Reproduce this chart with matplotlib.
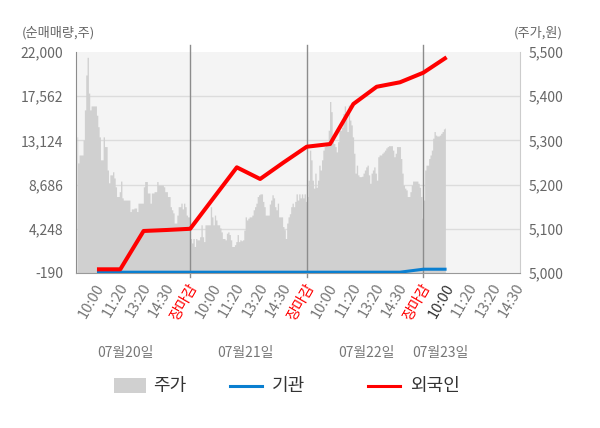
import numpy as np
import matplotlib.pyplot as plt
from matplotlib import transforms
from matplotlib.patches import Rectangle
from matplotlib.lines import Line2D

plt.rcParams['font.family'] = ['Noto Sans CJK KR', 'DejaVu Sans']

# ---- data ----
dates = ['07월20일', '07월21일', '07월22일', '07월23일']
slots = ['10:00', '11:20', '13:20', '14:30', '장마감']

# cumulative net buying (shares) at each slot, day1 10:00 ... day4 10:00
foreign = [180, 180, 4030, 4130, 4250, 7340, 10420, 9250, 10900, 12490,
           12760, 16780, 18510, 18960, 19920, 21470]
institution = [-110, -110, -110, -110, -110, -110, -110, -110, -110, -110,
               -110, -110, -110, -110, 190, 190]

# intraday price, 5-minute samples (won)
price_0720 = [5308, 5249, 5267, 5267, 5267, 5301, 5369, 5448, 5488, 5407,
              5369, 5378, 5378, 5378, 5378, 5357, 5331, 5308, 5256, 5256,
              5308, 5286, 5286, 5233, 5204, 5222, 5222, 5229, 5215, 5195,
              5173, 5173, 5184, 5208, 5170, 5165, 5165, 5165, 5165, 5165,
              5139, 5145, 5145, 5147, 5147, 5139, 5158, 5158, 5158, 5158,
              5195, 5207, 5207, 5181, 5181, 5158, 5181, 5181, 5184, 5184,
              5207, 5199, 5199, 5199, 5199, 5195, 5184, 5184, 5173, 5173,
              5150, 5143, 5136, 5113, 5113, 5131, 5150, 5150, 5158, 5145,
              5158, 5150, 5131, 5127, 5127]
price_0721 = [5078, 5068, 5078, 5060, 5078, 5075, 5075, 5082, 5109, 5082,
              5071, 5109, 5109, 5109, 5109, 5150, 5127, 5109, 5131, 5120,
              5109, 5109, 5102, 5093, 5078, 5078, 5075, 5090, 5093, 5087,
              5075, 5060, 5060, 5064, 5071, 5087, 5071, 5075, 5073, 5075,
              5097, 5127, 5120, 5124, 5127, 5127, 5131, 5143, 5150, 5158,
              5173, 5177, 5179, 5179, 5162, 5150, 5131, 5131, 5131, 5156,
              5165, 5177, 5170, 5150, 5143, 5158, 5127, 5127, 5127, 5105,
              5098, 5078, 5113, 5127, 5134, 5150, 5158, 5150, 5162, 5179,
              5165, 5179, 5170, 5179, 5170, 5179, 5162]
price_0722 = [5173, 5210, 5278, 5256, 5210, 5192, 5226, 5194, 5210, 5244,
              5233, 5256, 5278, 5286, 5293, 5293, 5323, 5388, 5365, 5308,
              5293, 5286, 5274, 5297, 5323, 5323, 5330, 5361, 5378, 5354,
              5320, 5380, 5346, 5335, 5308, 5271, 5226, 5244, 5222, 5218,
              5218, 5219, 5226, 5233, 5240, 5244, 5222, 5203, 5226, 5233,
              5240, 5226, 5210, 5263, 5267, 5267, 5271, 5274, 5278, 5283,
              5286, 5288, 5288, 5288, 5278, 5263, 5271, 5286, 5286, 5286,
              5259, 5226, 5199, 5192, 5188, 5173, 5173, 5184, 5199, 5208,
              5208, 5208, 5208, 5203, 5194, 5173, 5124]
price_0723 = [5165, 5233, 5244, 5244, 5259, 5267, 5278, 5305, 5320, 5312,
              5310, 5310, 5312, 5316, 5320, 5326, 5328]

left_ticks = [-190, 4248, 8686, 13124, 17562, 22000]
right_ticks = [5000, 5100, 5200, 5300, 5400, 5500]

# ---- layout helpers ----
W, H = 600, 428
SLOTS_PER_DAY = 87


def fx(px):
    return px / W


def fy(py):
    return 1 - py / H


fig = plt.figure(figsize=(W / 100, H / 100), dpi=100)
ax = fig.add_axes([fx(76), fy(273), fx(444), 221 / H])  # price (right scale)
ax2 = ax.twinx()  # net buying (left scale)

ax.set_facecolor('#f4f4f4')
ax.set_xlim(0.02, 3.83)
ax.set_ylim(5000, 5500)
ax2.set_ylim(-190, 22000)

# price area
days = [price_0720, price_0721, price_0722, price_0723]
starts = [SLOTS_PER_DAY - len(price_0720), 0, 0, 0]
px_all, pv_all = [], []
for d, (vals, s0) in enumerate(zip(days, starts)):
    i = np.arange(len(vals))
    px_all.append(d + (i + s0 + 0.5) / SLOTS_PER_DAY)
    pv_all.append(vals)
px_all = np.concatenate(px_all)
pv_all = np.concatenate(pv_all)
ax.fill_between(px_all, 5000, pv_all, step='mid', color='#d0d0d0', lw=0, zorder=2)

# grid
for v in right_ticks[1:-1]:
    ax.axhline(v, color='#dcdcdc', lw=1, zorder=1)

# day separators
for d in [1, 2, 3]:
    ax.axvline(d, ymin=-4 / 221, ymax=1 + 7 / 221, color='#8c8c8c', lw=1,
               clip_on=False, zorder=3)

# flow lines
flow_x = [d + k / 5 for d in range(4) for k in range(1, 6)][:len(foreign)]
ax2.plot(flow_x, institution, color='#0a7fd0', lw=2.2, solid_capstyle='butt', zorder=4)
ax2.plot(flow_x, foreign, color='#ff0000', lw=2.9, solid_capstyle='butt', zorder=5)

# spines
for s in ax2.spines.values():
    s.set_visible(False)
ax.spines['top'].set_visible(False)
ax.spines['left'].set_color('#8c8c8c')
ax.spines['right'].set_color('#cccccc')
ax.spines['bottom'].set_color('#999999')
ax.spines['bottom'].set_zorder(3)

# y axes
ax.yaxis.tick_right()
ax.set_yticks(right_ticks)
ax.set_yticklabels([f'{v:,}' for v in right_ticks])
ax.tick_params(axis='y', length=0, pad=6, labelsize=10, labelcolor='#666666')
ax2.yaxis.tick_left()
ax2.set_yticks(left_ticks)
ax2.set_yticklabels([f'{v:,}' for v in left_ticks])
ax2.tick_params(axis='y', length=0, pad=9, labelsize=10, labelcolor='#666666')

# x axis
ax.set_xticks([0.02, 1, 2, 3, 3.83])
ax.set_xticklabels([])
ax.tick_params(axis='x', length=4, color='#8c8c8c', width=1)
ax2.set_xticks([])

lab_tr = transforms.offset_copy(ax.get_xaxis_transform(), fig=fig, x=-2, y=-8, units='dots')
for d in range(4):
    for k, name in enumerate(slots):
        if d == 3 and name == '장마감':
            continue
        color = '#777777'
        if name == '장마감':
            color = '#ff0000'
        elif d == 3 and k == 0:
            color = '#333333'
        ax.text(d + (k + 1) / 5, 0, name, transform=lab_tr, rotation=60,
                rotation_mode='anchor', ha='right', va='top', fontsize=10.5,
                color=color, clip_on=False)

date_pos = [0.44, 1.47, 2.51, 3.145]
date_tr = transforms.offset_copy(ax.get_xaxis_transform(), fig=fig, x=0, y=-80, units='dots')
for xp, name in zip(date_pos, dates):
    ax.text(xp, 0, name, transform=date_tr, ha='center', va='center',
            fontsize=10, color='#777777')

# unit labels
fig.text(fx(22), fy(33), '(순매매량,주)', ha='left', va='center', fontsize=9.5, color='#666666')
fig.text(fx(563), fy(33), '(주가,원)', ha='right', va='center', fontsize=9.5, color='#666666')

# legend
fig.patches.append(Rectangle((fx(114), fy(393)), fx(32), 15 / H, transform=fig.transFigure,
                             facecolor='#d0d0d0', edgecolor='none'))
fig.lines.append(Line2D([fx(230), fx(262)], [fy(385.5), fy(385.5)], transform=fig.transFigure,
                        color='#0a7fd0', lw=2.2))
fig.lines.append(Line2D([fx(368), fx(400)], [fy(385.5), fy(385.5)], transform=fig.transFigure,
                        color='#ff0000', lw=2.2))
for xp, name in [(153, '주가'), (272, '기관'), (410, '외국인')]:
    fig.text(fx(xp), fy(386), name, ha='left', va='center', fontsize=13, color='#333333')

fig.savefig('out.png', dpi=100)
